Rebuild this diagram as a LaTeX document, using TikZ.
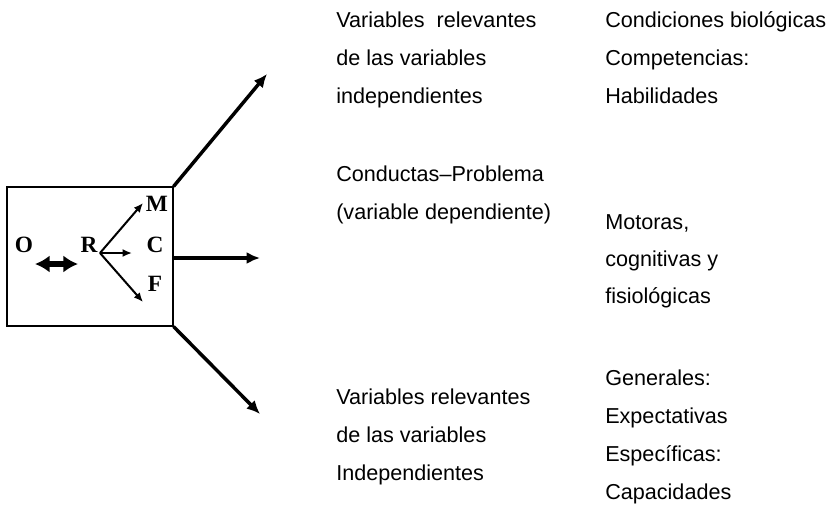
\documentclass[tikz,border=0pt]{standalone}
\usepackage{fontspec}
\setmainfont{Liberation Sans}
\newfontfamily\letrafont{Liberation Serif}
\usetikzlibrary{positioning}
\usetikzlibrary{arrows.meta}
\tikzset{ %Styles du schema
    texto/.style={anchor=base west,inner sep=0pt,font=\fontsize{16.2}{19}\selectfont},
    letra/.style={inner sep=0pt,font=\letrafont\bfseries\fontsize{17.5}{20}\selectfont},
    flecha grande/.style={-{Latex[length=10pt,width=9pt]},line width=2.6pt},
    flecha chica/.style={-{Latex[length=7pt,width=6pt]},line width=1.5pt},
    flecha doble/.style={{Latex[length=11pt,width=13pt]}-{Latex[length=11pt,width=13pt]},line width=4pt}
}
\begin{document}
\begin{tikzpicture}[x=0.75pt,y=-0.75pt]
            \useasboundingbox (0,0) rectangle (831,504);
            \node[draw,line width=0.8pt,minimum width=124.5pt,minimum height=104.25pt,inner sep=0pt] (caja) at (90,256.5) {};
            \coordinate (sup) at (267,74);
            \coordinate (med) at (260,258);
            \coordinate (inf) at (260,414);
            \draw[flecha grande] (caja.north east) -- (sup);
            \draw[flecha grande] (caja.east |- med) -- (med);
            \draw[flecha grande] (caja.south east) -- (inf);
            % lettres dans la boite
            \node[letra] (O) at (24,245) {O};
            \node[letra] (R) at (89,245) {R};
            \node[letra] (M) at (157,204) {M};
            \node[letra] (C) at (155,245) {C};
            \node[letra] (F) at (155,284) {F};
            \coordinate (R0) at (100,253);
            \coordinate (tM) at (143,203);
            \coordinate (tC) at (132,253);
            \coordinate (tF) at (143,302);
            \draw[flecha chica] (R0) -- (tM);
            \draw[flecha chica] (R0) -- (tC);
            \draw[flecha chica] (R0) -- (tF);
            \coordinate (dA) at (35,264);
            \coordinate (dB) at (78,264);
            \draw[flecha doble] (dA) -- (dB);
            % textes
            \foreach \t [count=\i] in {Variables\ \ relevantes,de las variables,independientes}
                \node[texto] (vs\i) at (336,27+38*\i-38) {\t};
            \foreach \t [count=\i] in {Conductas–Problema,(variable dependiente)}
                \node[texto] (cp\i) at (336,181+38*\i-38) {\t};
            \foreach \t [count=\i] in {Variables relevantes,de las variables,Independientes}
                \node[texto] (vi\i) at (336,404+38*\i-38) {\t};
            \foreach \t [count=\i] in {Condiciones biológicas,Competencias:,Habilidades}
                \node[texto] (cb\i) at (605,27+38*\i-38) {\t};
            \foreach \t [count=\i] in {{Motoras,},cognitivas y,fisiológicas}
                \node[texto] (mo\i) at (605,229+37*\i-37) {\t};
            \foreach \t [count=\i] in {Generales:,Expectativas,Específicas:,Capacidades}
                \node[texto] (ge\i) at (605,385+38.3*\i-38.3) {\t};
        \end{tikzpicture}
\end{document}
